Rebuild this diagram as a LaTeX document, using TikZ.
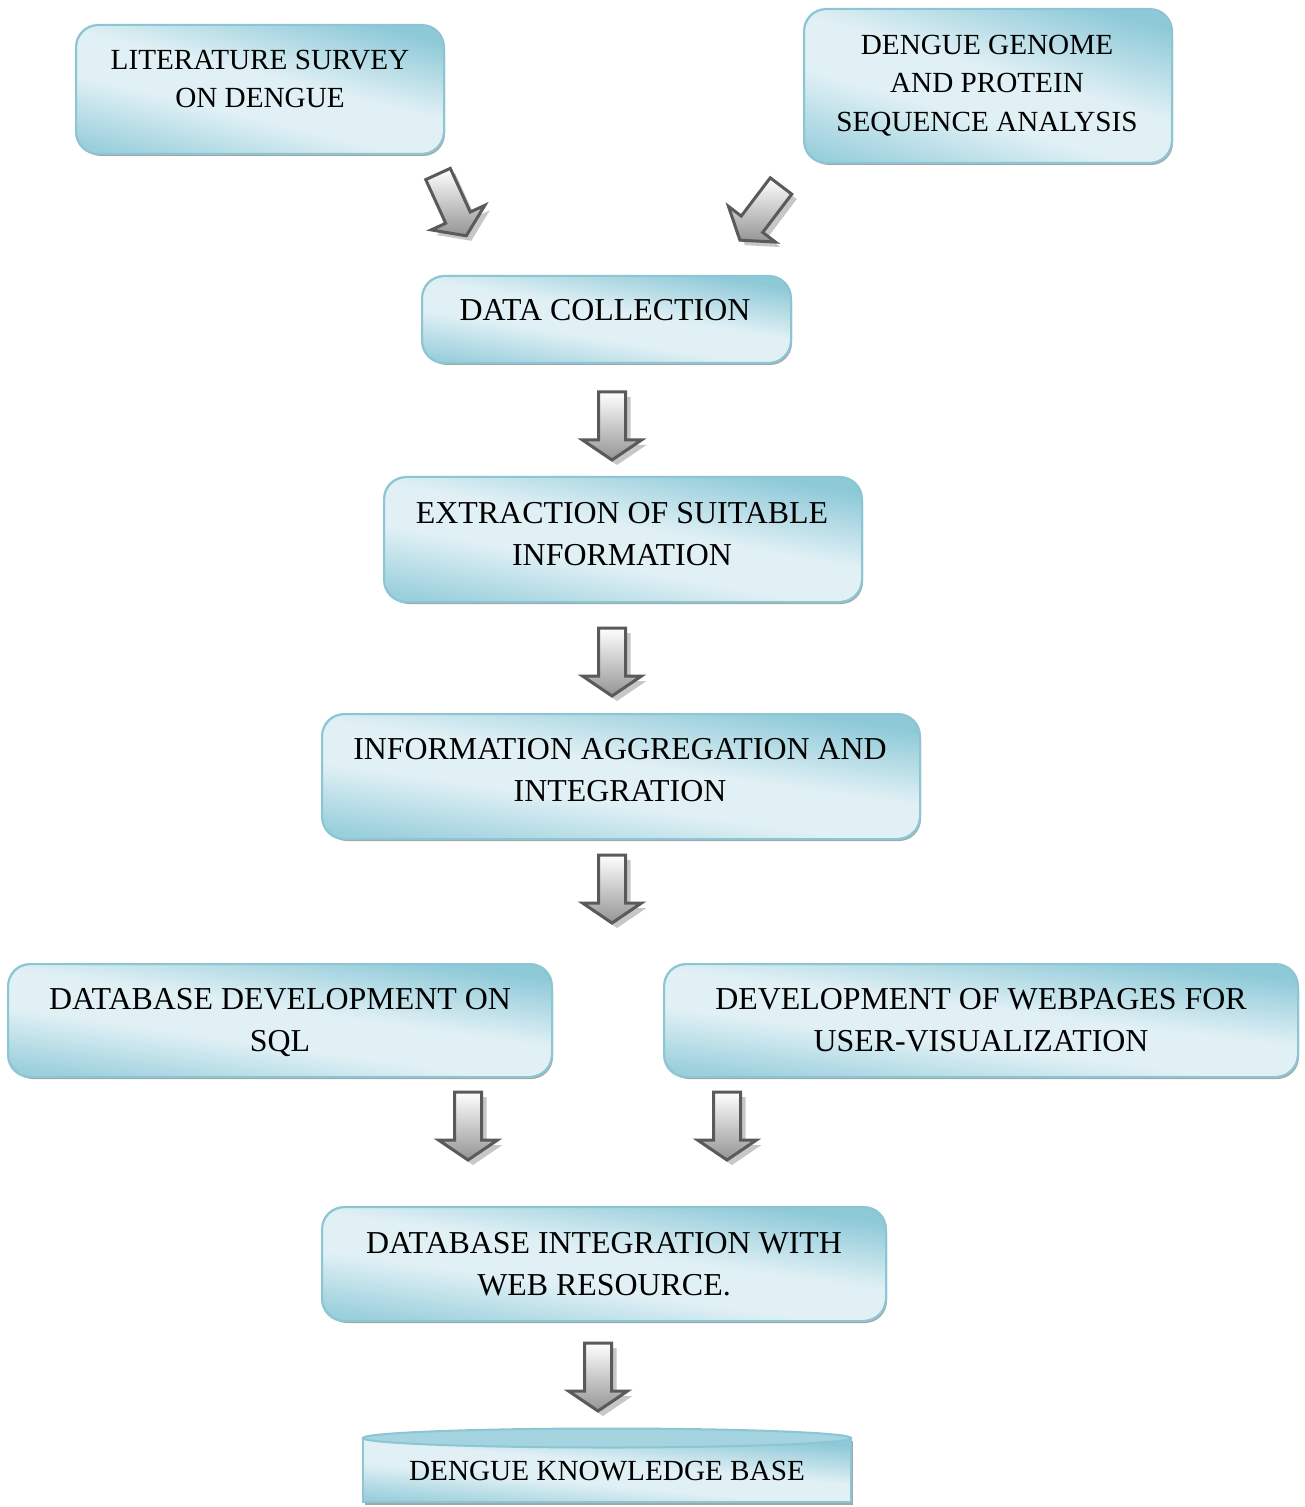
\documentclass[tikz,border=0pt]{standalone}
\usepackage{fontspec}
\setmainfont{Liberation Serif}
\usetikzlibrary{shadows,fit}
\definecolor{bxdark}{HTML}{8EC9D8}
\definecolor{bxdarkb}{HTML}{9ACFDC}
\definecolor{bxlight}{HTML}{E0F0F5}
\definecolor{bxline}{HTML}{8CC5D3}
\definecolor{cyltop}{HTML}{A3D4E0}
\definecolor{arline}{HTML}{5A5A5A}
\pgfdeclareverticalshading{glassv}{100bp}{color(0bp)=(bxdarkb); color(37bp)=(bxdarkb); color(46bp)=(bxlight); color(52bp)=(bxlight); color(62bp)=(bxdark); color(100bp)=(bxdark)}
\tikzset{
  flowbox/.style={draw=bxline, line width=1pt, rounded corners=11pt, inner sep=0pt, fill=bxlight,
    drop shadow={shadow xshift=1pt, shadow yshift=-1.5pt, fill=black!50, opacity=0.7}},
  boxline/.style={draw=bxline, line width=1pt},
  bigtxt/.style={align=center, font=\fontsize{15.95}{21}\selectfont, inner sep=0pt},
  smalltxt/.style={align=center, font=\fontsize{14.6}{19.25}\selectfont, inner sep=0pt},
  arrowbody/.style={draw=arline, line width=1.5pt, line join=miter, top color=white, bottom color=black!42},
  arrowshade/.style={fill=black!22},
}
% glass shading clipped to a region: x1 y1 x2 y2 corner-radius
\newcommand{\glassfill}[5]{%
  \begin{scope}
    \clip[rounded corners=#5] (#1,#2) rectangle (#3,#4);
    \begin{scope}[transform canvas={shift={({(#1+#3)/2},{(#2+#4)/2})}, yslant={-0.7*(#4-#2)/(#3-#1)}}]
      \shade[shading=glassv] (-800,{-1.5*(#4-#2)}) rectangle (800,{1.5*(#4-#2)});
    \end{scope}
  \end{scope}}
\newcommand{\glassbox}[5]{%
  \node[flowbox, fit={(#2,#3) (#4,#5)}] (#1) {};
  \glassfill{#2}{#3}{#4}{#5}{11pt}
  \draw[boxline, rounded corners=11pt] (#1.south west) rectangle (#1.north east);}
\newcommand{\blockarr}[4]{%
  \begin{scope}[shift={(#2+5,#3+5)}, rotate=#4]
    \fill[arrowshade] (-13.5,0) -- (13.5,0) -- (13.5,48) -- (29.5,48) -- (0,68) -- (-29.5,48) -- (-13.5,48) -- cycle;
  \end{scope}
  \begin{scope}[shift={(#2,#3)}, rotate=#4]
    \coordinate (#1-tail) at (0,0);
    \coordinate (#1-tip) at (0,68);
    \path[arrowbody] (-13.5,0) -- (13.5,0) -- (13.5,48) -- (29.5,48) -- (0,68) -- (-29.5,48) -- (-13.5,48) -- cycle;
  \end{scope}}
\begin{document}
\begin{tikzpicture}[x=0.5pt, y=-0.5pt]
\clip (0,0) rectangle (1304,1507);
\fill[white] (0,0) rectangle (1304,1507);
% boxes
\glassbox{lit}{77}{26}{443}{153}
\glassbox{gen}{805}{10}{1171}{162}
\glassbox{dc}{423}{277}{790}{362}
\glassbox{ext}{385}{478}{861}{601}
\glassbox{agg}{323}{715}{919}{838}
\glassbox{dbd}{9}{965}{551}{1076}
\glassbox{web}{665}{965}{1297}{1076}
\glassbox{dbi}{323}{1208}{885}{1320}
% cylinder
\path[flowbox, rounded corners=0pt] (363,1438) rectangle (851,1502);
\glassfill{363}{1438}{851}{1502}{0pt}
\draw[boxline] (363,1438) -- (363,1502) -- (851,1502) -- (851,1438);
\path[draw=bxline, line width=1pt, fill=cyltop] (607,1438) ellipse [x radius=244, y radius=9.5];
% arrows
\blockarr{a1}{438}{174}{24.6}
\blockarr{a2}{781}{186}{-37.2}
\blockarr{a3}{612}{392}{0}
\blockarr{a4}{612}{628}{0}
\blockarr{a5}{612}{855}{0}
\blockarr{a6}{468}{1092}{0}
\blockarr{a7}{727}{1092}{0}
\blockarr{a8}{598}{1343}{0}
% texts
\node[smalltxt] (litT) at (260,79) {LITERATURE SURVEY\\ON DENGUE};
\node[smalltxt] (genT) at (987,85.5) {DENGUE GENOME\\AND PROTEIN\\SEQUENCE ANALYSIS};
\node[bigtxt] (dcT) at (605,310) {DATA COLLECTION};
\node[bigtxt] (extT) at (622,534.5) {EXTRACTION OF SUITABLE\\INFORMATION};
\node[bigtxt] (aggT) at (620,770) {INFORMATION AGGREGATION AND\\INTEGRATION};
\node[bigtxt] (dbdT) at (280,1023) {DATABASE DEVELOPMENT ON\\SQL};
\node[bigtxt] (webT) at (981,1020) {DEVELOPMENT OF WEBPAGES FOR\\USER-VISUALIZATION};
\node[bigtxt] (dbiT) at (604,1264) {DATABASE INTEGRATION WITH\\WEB RESOURCE.};
\node[smalltxt] (kb) at (607,1471) {DENGUE KNOWLEDGE BASE};
\end{tikzpicture}
\end{document}
